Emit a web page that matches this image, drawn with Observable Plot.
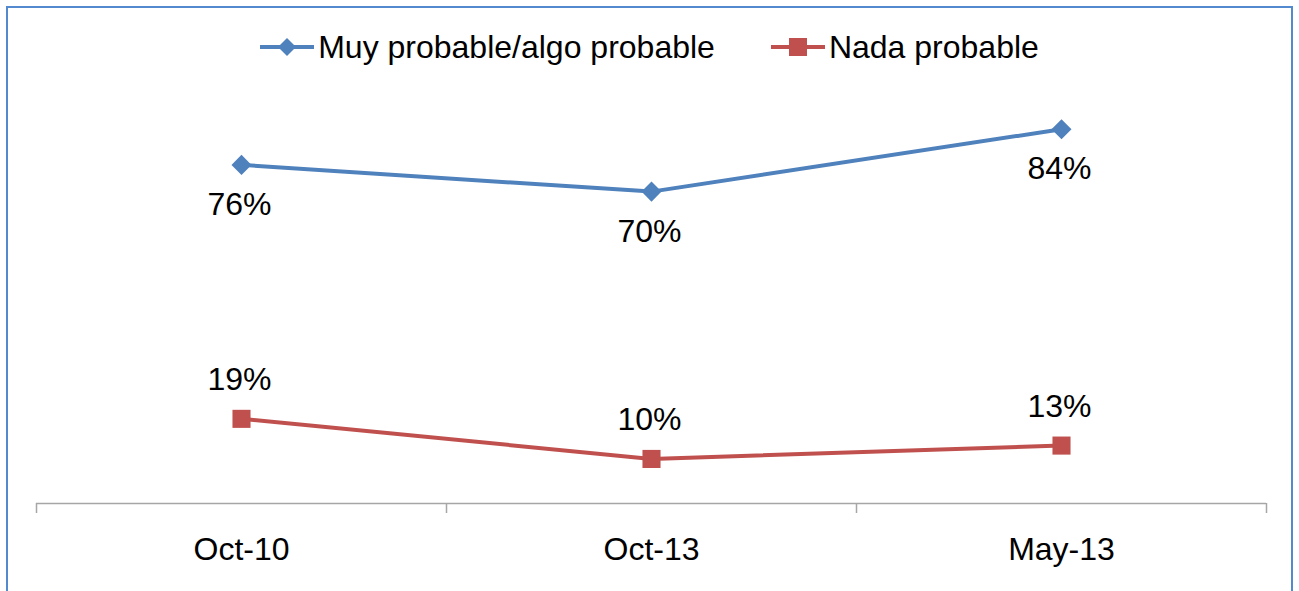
<!DOCTYPE html>
<html>
<head>
<meta charset="utf-8">
<script src="https://cdn.jsdelivr.net/npm/d3@7"></script>
<script src="https://cdn.jsdelivr.net/npm/@observablehq/plot@0.6"></script>
<style>
  html, body { margin: 0; padding: 0; background: #fff; overflow: hidden; }
  body { width: 1299px; height: 591px; position: relative; font-family: "Liberation Sans", Arial, sans-serif; }
  #frame { position: absolute; left: 6px; top: 6px; width: 1287px; height: 700px; box-sizing: border-box;
           border: 2px solid #5289CF; pointer-events: none; }
  #legend { height: 94px; display: flex; justify-content: center; align-items: center; font-size: 32px; color: #000; }
  .item { display: flex; align-items: center; }
  .item svg { margin-right: 4px; }
  .gap { width: 56px; }
</style>
</head>
<body>
<div id="legend"></div>
<div id="chart"></div>
<div id="frame"></div>
<script>
const categories = ["Oct-10", "Oct-13", "May-13"];
const seriesNames = ["Muy probable/algo probable", "Nada probable"];
const muyProbable = [76, 70, 84];
const nadaProbable = [19, 10, 13];
const colors = ["#4F81BD", "#C0504D"];

const diamond = {
  draw(ctx, size) {
    const r = Math.sqrt(size / 2);
    ctx.moveTo(0, -r); ctx.lineTo(r, 0); ctx.lineTo(0, r); ctx.lineTo(-r, 0); ctx.closePath();
  }
};
const square = {
  draw(ctx, size) {
    const s = Math.sqrt(size) / 2;
    ctx.rect(-s, -s, 2 * s, 2 * s);
  }
};

const rows = [];
categories.forEach((c, i) => {
  rows.push({i, cat: c, series: seriesNames[0], value: muyProbable[i]});
  rows.push({i, cat: c, series: seriesNames[1], value: nadaProbable[i]});
});
const blue = rows.filter(d => d.series === seriesNames[0]);
const red = rows.filter(d => d.series === seriesNames[1]);
const boundaries = d3.range(-0.5, categories.length, 1);

// Legend
const legend = document.getElementById("legend");
seriesNames.forEach((name, k) => {
  if (k > 0) { const g = document.createElement("div"); g.className = "gap"; legend.appendChild(g); }
  const item = document.createElement("div");
  item.className = "item";
  const shape = k === 0
    ? `<path d="M27,1 L36,10 L27,19 L18,10 Z" fill="${colors[0]}"/>`
    : `<rect x="18" y="1" width="18" height="18" fill="${colors[1]}"/>`;
  item.innerHTML = `<svg width="54" height="20"><line x1="0" x2="54" y1="10" y2="10" stroke="${colors[k]}" stroke-width="4"/>${shape}</svg><span>${name}</span>`;
  legend.appendChild(item);
});

const chart = Plot.plot({
  width: 1299,
  height: 497,
  marginLeft: 36,
  marginRight: 33,
  marginTop: 8,
  marginBottom: 88,
  style: { fontFamily: "Liberation Sans, Arial, sans-serif", fontSize: "32px", color: "#000", background: "transparent" },
  x: { domain: [-0.5, categories.length - 0.5], axis: null },
  y: { domain: [0, 90], axis: null },
  marks: [
    Plot.ruleY([0], { stroke: "#A6A6A6", strokeWidth: 1.5 }),
    Plot.axisX(boundaries, { tickSize: 10, tickFormat: () => "", label: null, stroke: "#A6A6A6", strokeWidth: 1.5, strokeOpacity: 1 }),
    Plot.axisX(d3.range(categories.length), { tickSize: 0, tickPadding: 34, tickFormat: i => categories[i], label: null, fontSize: 32, fill: "#000" }),
    Plot.line(blue, { x: "i", y: "value", stroke: colors[0], strokeWidth: 4 }),
    Plot.line(red, { x: "i", y: "value", stroke: colors[1], strokeWidth: 4 }),
    Plot.dot(blue, { x: "i", y: "value", symbol: diamond, r: 8, fill: colors[0], stroke: null }),
    Plot.dot(red, { x: "i", y: "value", symbol: square, r: 10.2, fill: colors[1], stroke: null }),
    Plot.text(blue, { x: "i", y: "value", text: d => d.value + "%", dx: -2, dy: 40, fontSize: 32, fill: "#000" }),
    Plot.text(red, { x: "i", y: "value", text: d => d.value + "%", dx: -2, dy: -39, fontSize: 32, fill: "#000" })
  ]
});
document.getElementById("chart").appendChild(chart);
</script>
</body>
</html>
